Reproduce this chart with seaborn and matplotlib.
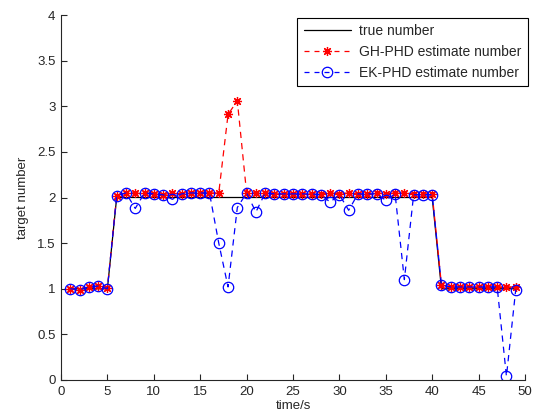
import matplotlib
matplotlib.use("Agg")
import matplotlib.pyplot as plt
import seaborn as sns
import pandas as pd

time_s = list(range(1, 50))
true_number = [1, 1, 1, 1, 1,
               2, 2, 2, 2, 2, 2, 2, 2, 2, 2, 2, 2, 2, 2, 2, 2, 2, 2, 2, 2, 2, 2, 2, 2, 2, 2, 2, 2, 2, 2, 2, 2, 2, 2, 2,
               1, 1, 1, 1, 1, 1, 1, 1, 1]
gh_phd = [1.00, 0.99, 1.02, 1.03, 1.01,
          2.02, 2.05, 2.05, 2.05, 2.04, 2.03, 2.05, 2.04, 2.05, 2.05, 2.05, 2.05, 2.91, 3.06, 2.05,
          2.05, 2.05, 2.04, 2.04, 2.04, 2.04, 2.04, 2.04, 2.05, 2.04, 2.05, 2.04, 2.04, 2.05, 2.04,
          2.05, 2.05, 2.04, 2.04, 2.04,
          1.04, 1.02, 1.02, 1.02, 1.02, 1.02, 1.02, 1.02, 1.02]
ek_phd = [1.00, 0.99, 1.02, 1.03, 1.00,
          2.02, 2.05, 1.88, 2.05, 2.04, 2.03, 1.98, 2.04, 2.05, 2.05, 2.05, 1.50, 1.02, 1.89, 2.05,
          1.84, 2.05, 2.04, 2.04, 2.04, 2.04, 2.04, 2.03, 1.95, 2.03, 1.86, 2.04, 2.04, 2.04, 1.97,
          2.04, 1.10, 2.03, 2.03, 2.03,
          1.04, 1.02, 1.02, 1.02, 1.02, 1.02, 1.02, 0.04, 0.99]

x_ticks = [0, 5, 10, 15, 20, 25, 30, 35, 40, 45, 50]
y_ticks = [0, 0.5, 1, 1.5, 2, 2.5, 3, 3.5, 4]

sns.set_theme(style="ticks")
plt.rcParams['font.family'] = ['Liberation Sans', 'DejaVu Sans']
plt.rcParams['xtick.direction'] = 'in'
plt.rcParams['ytick.direction'] = 'in'

df = pd.DataFrame({"t": time_s, "true": true_number, "gh": gh_phd, "ek": ek_phd})

fig = plt.figure(figsize=(5.37, 4.16), dpi=100)
ax = fig.add_axes([61 / 537, 36 / 416, (525 - 61) / 537, (380 - 15) / 416])

sns.lineplot(data=df, x="t", y="true", ax=ax, color="black", linewidth=0.9,
             label="true number")
sns.lineplot(data=df, x="t", y="gh", ax=ax, color="red", linewidth=0.9,
             marker=(8, 2, 0), markersize=6.5, markeredgewidth=0.9,
             markeredgecolor="red", markerfacecolor="none",
             label="GH-PHD estimate number")
sns.lineplot(data=df, x="t", y="ek", ax=ax, color="blue", linewidth=0.9,
             marker="o", markersize=7.5, markeredgewidth=0.9,
             markeredgecolor="blue", markerfacecolor="none",
             label="EK-PHD estimate number")
ax.lines[1].set_dashes([5, 4])
ax.lines[2].set_dashes([5, 4])

ax.set_xlim(0, 50)
ax.set_ylim(0, 4)
ax.set_xticks(x_ticks)
ax.set_yticks(y_ticks)
ax.set_xticklabels([str(v) for v in x_ticks])
ax.set_yticklabels(["0", "0.5", "1", "1.5", "2", "2.5", "3", "3.5", "4"])
ax.tick_params(labelsize=9.5, length=4, width=0.8, colors="#262626", pad=4)
for s in ["top", "right"]:
    ax.spines[s].set_visible(False)
for s in ["left", "bottom"]:
    ax.spines[s].set_linewidth(0.8)
    ax.spines[s].set_color("#262626")
ax.set_xlabel("time/s", fontsize=9.5, labelpad=2)
ax.set_ylabel("target number", fontsize=9.5, labelpad=6)

leg = ax.legend(loc="upper right", bbox_to_anchor=(1.006, 0.993), fontsize=10,
                frameon=True, fancybox=False, edgecolor="black", framealpha=1,
                handlelength=3.4, borderpad=0.45, labelspacing=0.5, handletextpad=0.6,
                borderaxespad=0.0)
leg.get_frame().set_linewidth(0.8)
for h in leg.get_lines()[1:]:
    h.set_dashes([4, 4])

fig.savefig("out.png", dpi=100)
